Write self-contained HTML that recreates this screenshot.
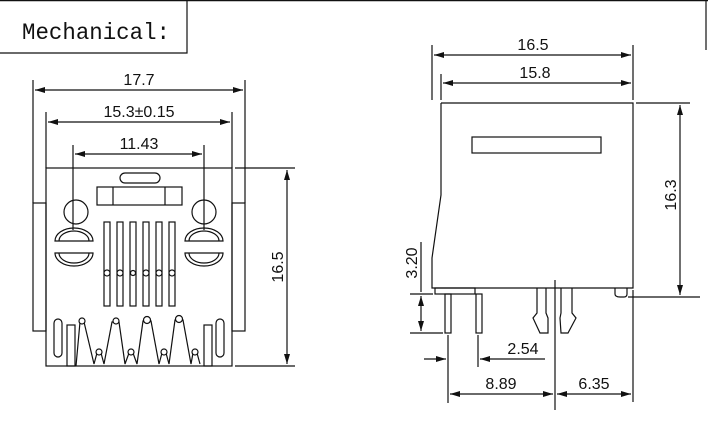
<!DOCTYPE html>
<html><head><style>
html,body{margin:0;padding:0;background:#fff;}
svg{display:block;}
text{font-family:"Liberation Sans",sans-serif;font-size:16px;fill:#111;}
</style></head><body>
<svg width="708" height="445" viewBox="0 0 708 445" xmlns="http://www.w3.org/2000/svg">
<defs>
<marker id="a" markerWidth="10" markerHeight="6" refX="10" refY="3" orient="auto-start-reverse" markerUnits="userSpaceOnUse"><path d="M0,0 L10,3 L0,6 z" fill="#111"/></marker>
</defs>
<g stroke="#111" stroke-width="1.2" fill="none">
<line x1="0" y1="0.5" x2="708" y2="0.5" stroke-width="1.5"/>
<polyline points="0,53 187,53 187,0"/>
<line x1="706" y1="0" x2="706" y2="50"/>
<line x1="33" y1="80" x2="33" y2="203"/><line x1="245" y1="80" x2="245" y2="203"/>
<line x1="35" y1="90" x2="243" y2="90" marker-start="url(#a)" marker-end="url(#a)"/>
<line x1="46" y1="112" x2="46" y2="168"/><line x1="232" y1="112" x2="232" y2="168"/>
<line x1="48" y1="122" x2="230" y2="122" marker-start="url(#a)" marker-end="url(#a)"/>
<line x1="73" y1="145" x2="73" y2="230"/><line x1="204" y1="145" x2="204" y2="230"/>
<line x1="75" y1="154" x2="202" y2="154" marker-start="url(#a)" marker-end="url(#a)"/>
<rect x="46" y="168" width="186" height="198"/>
<rect x="33" y="203" width="13" height="128"/><rect x="232" y="203" width="13" height="128"/>
<line x1="235" y1="168" x2="295" y2="168"/><line x1="235" y1="366" x2="295" y2="366"/>
<line x1="287" y1="170" x2="287" y2="364" marker-start="url(#a)" marker-end="url(#a)"/>
<rect x="120" y="173" width="40" height="10" rx="5"/>
<rect x="97" y="187" width="85" height="18"/>
<line x1="113" y1="187" x2="113" y2="205"/><line x1="165" y1="187" x2="165" y2="205"/>
<circle cx="76" cy="212" r="12"/><circle cx="204" cy="212" r="12"/>
<path d="M55,241 A19,13 0 0 1 93,241 Z M59,241 A15,10 0 0 1 89,241"/>
<path d="M55,253 A19,13 0 0 0 93,253 Z M59,253 A15,10 0 0 0 89,253"/>
<path d="M185,241 A19,13 0 0 1 223,241 Z M189,241 A15,10 0 0 1 219,241"/>
<path d="M185,253 A19,13 0 0 0 223,253 Z M189,253 A15,10 0 0 0 219,253"/>
<rect x="104" y="222" width="6" height="84"/><rect x="117" y="222" width="6" height="84"/>
<rect x="130" y="222" width="6" height="84"/><rect x="143" y="222" width="6" height="84"/>
<rect x="156" y="222" width="6" height="84"/><rect x="169" y="222" width="6" height="84"/>
<g fill="#fff"><circle cx="107" cy="273" r="3"/><circle cx="120" cy="273" r="3"/><circle cx="133" cy="273" r="2.5"/><circle cx="146" cy="273" r="3"/><circle cx="159" cy="273" r="3"/><circle cx="172" cy="273" r="3"/></g>
<rect x="54" y="319" width="8" height="38" rx="4"/><rect x="67" y="325" width="8" height="41"/>
<rect x="204" y="325" width="8" height="41"/><rect x="216" y="319" width="8" height="38" rx="4"/>
<polyline points="76,366 80,322 84,322 94,364 97,353 101,353 104,364 112,322 119,322 125,364 129,353 133,353 137,364 143,321 151,321 159,364 162,353 166,353 169,364 175,320 183,320 191,364 193,353 197,353 200,364"/>
<g fill="#fff"><circle cx="82" cy="321" r="3"/><circle cx="116" cy="321" r="3"/><circle cx="147" cy="320" r="3.5"/><circle cx="179" cy="319" r="3.5"/>
<circle cx="99" cy="352" r="3"/><circle cx="131" cy="352" r="3"/><circle cx="164" cy="352" r="3"/><circle cx="195" cy="352" r="3"/></g>
<line x1="432" y1="45" x2="432" y2="100"/><line x1="633" y1="45" x2="633" y2="100"/>
<line x1="434" y1="55" x2="631" y2="55" marker-start="url(#a)" marker-end="url(#a)"/>
<line x1="441" y1="74" x2="441" y2="100"/>
<line x1="443" y1="83" x2="631" y2="83" marker-start="url(#a)" marker-end="url(#a)"/>
<polyline points="441,103 633,103 633,288 432,288 432,258 441,195 441,103"/>
<rect x="472" y="137" width="129" height="16"/>
<line x1="636" y1="103" x2="690" y2="103"/><line x1="628" y1="297" x2="700" y2="297"/>
<line x1="680" y1="105" x2="680" y2="295" marker-start="url(#a)" marker-end="url(#a)"/>
<path d="M615,288 L615,294 Q615,297 620,297 L624,297 Q627,297 627,294 L627,288"/>
<rect x="435" y="288" width="40" height="6"/>
<rect x="445" y="294" width="6" height="39"/><rect x="476" y="294" width="6" height="39"/>
<path d="M537,288 L537,313 L533,318 L540,333 L548,333 L548,318 L546,313 L546,288"/>
<path d="M561,288 L561,313 L560,318 L561,333 L568,333 L576,318 L572,313 L572,288"/>
<line x1="555" y1="280" x2="555" y2="410"/>
<line x1="410" y1="294" x2="433" y2="294"/><line x1="410" y1="333" x2="443" y2="333"/>
<line x1="421" y1="242" x2="421" y2="292"/>
<line x1="421" y1="296" x2="421" y2="331" marker-start="url(#a)" marker-end="url(#a)"/>
<line x1="448" y1="335" x2="448" y2="403"/><line x1="478" y1="335" x2="478" y2="367"/>
<line x1="424" y1="359" x2="446" y2="359" marker-end="url(#a)"/>
<line x1="545" y1="359" x2="480" y2="359" marker-end="url(#a)"/>
<line x1="633" y1="290" x2="633" y2="402"/>
<line x1="450" y1="394" x2="553" y2="394" marker-start="url(#a)" marker-end="url(#a)"/>
<line x1="557" y1="394" x2="631" y2="394" marker-start="url(#a)" marker-end="url(#a)"/>
</g>
<text x="22" y="39" style="font-family:'Liberation Mono',monospace;font-size:23px" textLength="148" lengthAdjust="spacingAndGlyphs">Mechanical:</text>
<text x="139" y="85" text-anchor="middle">17.7</text>
<text x="139" y="117" text-anchor="middle">15.3±0.15</text>
<text x="139" y="149" text-anchor="middle">11.43</text>
<text transform="translate(283,267) rotate(-90)" text-anchor="middle">16.5</text>
<text x="533" y="50" text-anchor="middle">16.5</text>
<text x="535" y="78" text-anchor="middle">15.8</text>
<text transform="translate(676,195) rotate(-90)" text-anchor="middle">16.3</text>
<text transform="translate(417,263) rotate(-90)" text-anchor="middle">3.20</text>
<text x="523" y="354" text-anchor="middle">2.54</text>
<text x="501" y="389" text-anchor="middle">8.89</text>
<text x="594" y="389" text-anchor="middle">6.35</text>
</svg>
</body></html>
